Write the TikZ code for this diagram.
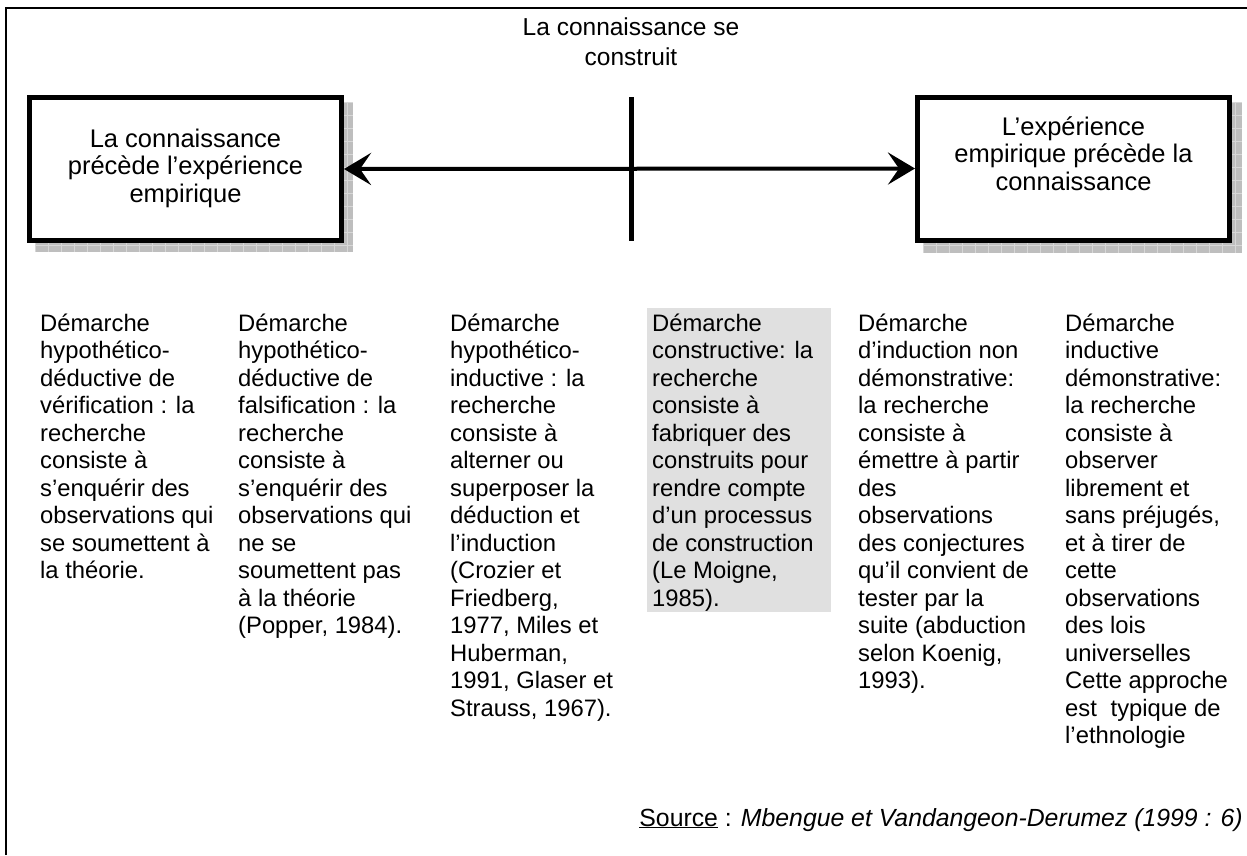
\documentclass[tikz,border=0pt]{standalone}
\usepackage{fontspec}
\setmainfont{Liberation Sans}
\usetikzlibrary{arrows.meta}
\definecolor{shadowgray}{RGB}{190,190,190}
\definecolor{gridgray}{RGB}{215,215,215}
\definecolor{cellgray}{RGB}{224,224,224}
\begin{document}
\begin{tikzpicture}[x=1pt,y=-1pt,
  txt/.style={font=\fontsize{23.8}{27.5}\selectfont, inner sep=0pt, align=left, anchor=base west},
  ctxt/.style={font=\fontsize{25.5}{27.5}\selectfont, inner sep=0pt, align=center, anchor=base},
  bigbox/.style={draw=black, line width=5pt, fill=white, minimum width=312pt, minimum height=143pt, inner sep=0pt},
  conn/.style={line width=4pt, {Stealth[length=27pt,width=32pt,inset=11pt]}-{Stealth[length=27pt,width=32pt,inset=11pt]}},
  bar/.style={line width=5pt},
  frame/.style={line width=2.5pt}
]
\useasboundingbox (0,0) rectangle (1247,855);
\fill[white] (0,0) rectangle (1247,855);

% frame
\draw[frame] (6,855) -- (6,8) -- (1247,8);

% shadows
\begin{scope}
  \clip (35,102) rectangle (353,252);
  \fill[shadowgray] (35,102) rectangle (353,252);
  \foreach \i in {0,...,25} {\draw[gridgray, line width=0.6pt] (35+13*\i,102) -- (35+13*\i,252);}
  \foreach \j in {0,...,12} {\draw[gridgray, line width=0.6pt] (35,102+13*\j) -- (353,102+13*\j);}
\end{scope}
\begin{scope}
  \clip (923,102) rectangle (1242,253);
  \fill[shadowgray] (923,102) rectangle (1242,253);
  \foreach \i in {0,...,25} {\draw[gridgray, line width=0.6pt] (923+13*\i,102) -- (923+13*\i,253);}
  \foreach \j in {0,...,12} {\draw[gridgray, line width=0.6pt] (923,102+13*\j) -- (1242,102+13*\j);}
\end{scope}

% boxes
\node[bigbox] (L) at (185.5,169) {};
\node[bigbox] (R) at (1073.5,168.5) {};
\node[ctxt] (Lt) at (185.5,202) {La connaissance\\précède l’expérience\\empirique};
\node[ctxt] (Rt) at (1073.5,190) {L’expérience\\empirique précède la\\connaissance};

% top text
\node[ctxt, font=\fontsize{24.5}{30}\selectfont] (top) at (631,65) {La connaissance se\\construit};

% arrow and bar
\draw[conn] (L.east) -- (R.west);
\coordinate (vt) at (631,97);
\coordinate (vb) at (631,241);
\draw[bar] (vt) -- (vb);

% gray cell
\fill[cellgray] (647,308) rectangle (831,612);

% columns (anchor = baseline of last line)
\node[txt] (c1) at (40,578.5) {Démarche\\hypothético-\\déductive de\\vérification : la\\recherche\\consiste à\\s’enquérir des\\observations qui\\se soumettent à\\la théorie.};
\node[txt] (c2) at (238,633.5) {Démarche\\hypothético-\\déductive de\\falsification : la\\recherche\\consiste à\\s’enquérir des\\observations qui\\ne se\\soumettent pas\\à la théorie\\(Popper, 1984).};
\node[txt] (c3) at (450,716) {Démarche\\hypothético-\\inductive : la\\recherche\\consiste à\\alterner ou\\superposer la\\déduction et\\l’induction\\(Crozier et\\Friedberg,\\1977, Miles et\\Huberman,\\1991, Glaser et\\Strauss, 1967).};
\node[txt] (c4) at (652,606) {Démarche\\constructive: la\\recherche\\consiste à\\fabriquer des\\construits pour\\rendre compte\\d’un processus\\de construction\\(Le Moigne,\\1985).};
\node[txt] (c5) at (858,688.5) {Démarche\\d’induction non\\démonstrative:\\la recherche\\consiste à\\émettre à partir\\des\\observations\\des conjectures\\qu’il convient de\\tester par la\\suite (abduction\\selon Koenig,\\1993).};
\node[txt] (c6) at (1065,743.5) {Démarche\\inductive\\démonstrative:\\la recherche\\consiste à\\observer\\librement et\\sans préjugés,\\et à tirer de\\cette\\observations\\des lois\\universelles\\Cette approche\\est\hspace{0.3em} typique de\\l’ethnologie};

% source
\node[txt, font=\fontsize{24.8}{27.5}\selectfont, anchor=base east] (src) at (1243,826) {\underline{Source} : \textit{Mbengue et Vandangeon-Derumez (1999 : 6)}};
\end{tikzpicture}
\end{document}
